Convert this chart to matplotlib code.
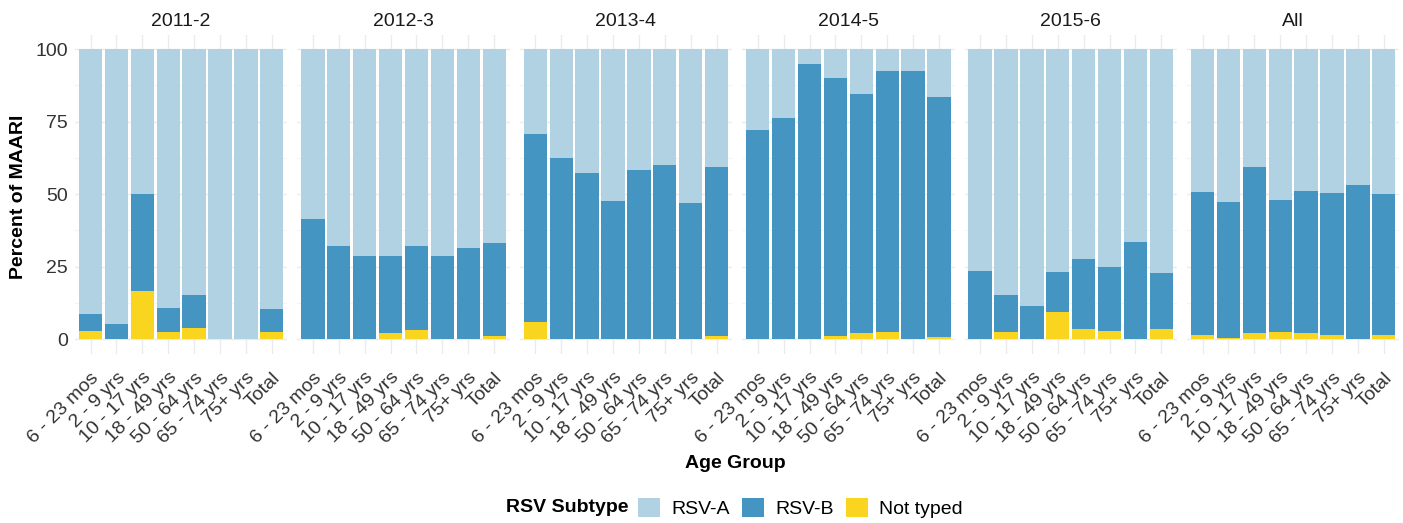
import matplotlib.pyplot as plt
import matplotlib.transforms as mtransforms
import numpy as np
from matplotlib.patches import Patch

plt.rcParams['font.family'] = ['Liberation Sans', 'DejaVu Sans']

# Age groups and seasons (facets)
age_groups = ['6 - 23 mos', '2 - 9 yrs', '10 - 17 yrs', '18 - 49 yrs',
              '50 - 64 yrs', '65 - 74 yrs', '75+ yrs', 'Total']
seasons = ['2011-2', '2012-3', '2013-4', '2014-5', '2015-6', 'All']

# Percent of MAARI by subtype, one list per season
not_typed = {
    '2011-2': [3.0, 0.0, 16.8, 2.6, 3.8, 0.0, 0.0, 2.6],
    '2012-3': [0.0, 0.0, 0.0, 2.0, 3.3, 0.0, 0.0, 1.1],
    '2013-4': [6.0, 0.0, 0.0, 0.0, 0.0, 0.0, 0.0, 1.1],
    '2014-5': [0.0, 0.0, 0.0, 1.1, 2.0, 2.6, 0.0, 0.8],
    '2015-6': [0.0, 2.6, 0.0, 9.4, 3.4, 3.0, 0.0, 3.4],
    'All':    [1.5, 0.5, 2.0, 2.6, 2.3, 1.5, 0.0, 1.5],
}
rsv_b = {
    '2011-2': [5.6, 5.3, 33.2, 8.2, 11.5, 0.0, 0.0, 7.8],
    '2012-3': [41.3, 32.0, 28.7, 26.7, 28.7, 28.7, 31.3, 32.0],
    '2013-4': [64.7, 62.6, 57.4, 47.6, 58.4, 59.9, 47.0, 58.1],
    '2014-5': [72.2, 76.3, 94.9, 89.0, 82.5, 89.7, 92.3, 82.7],
    '2015-6': [23.5, 12.8, 11.3, 13.8, 24.3, 22.0, 33.5, 19.3],
    'All':    [49.1, 46.9, 57.2, 45.5, 48.8, 48.8, 53.3, 48.4],
}
rsv_a = {
    '2011-2': [91.4, 94.7, 50.0, 89.2, 84.7, 100.0, 100.0, 89.6],
    '2012-3': [58.7, 68.0, 71.3, 71.3, 68.0, 71.3, 68.7, 66.9],
    '2013-4': [29.3, 37.4, 42.6, 52.4, 41.6, 40.1, 53.0, 40.8],
    '2014-5': [27.8, 23.7, 5.1, 9.9, 15.5, 7.7, 7.7, 16.5],
    '2015-6': [76.5, 84.6, 88.7, 76.8, 72.3, 75.0, 66.5, 77.3],
    'All':    [49.4, 52.6, 40.8, 51.9, 48.9, 49.7, 46.7, 50.1],
}

col_a = '#B0D2E3'
col_b = '#4595C3'
col_nt = '#F9D51F'
grid_major = '#EBEBEB'
grid_minor = '#F4F4F4'
fs = 14

fig = plt.figure(figsize=(14.03, 5.23), dpi=100)

W, H = 1403.0, 523.0
left0 = 75 / W
pw = 212.3 / W
step = 222.4 / W
bottom = 1 - 353.8 / H
ph = (353.8 - 34.5) / H

# small shift for rotated tick labels
shift = mtransforms.ScaledTranslation(4 / 100, 0, fig.dpi_scale_trans)

x = np.arange(1, len(age_groups) + 1)
for i, s in enumerate(seasons):
    ax = fig.add_axes([left0 + i * step, bottom, pw, ph])
    nt = np.array(not_typed[s])
    b = np.array(rsv_b[s])
    a = np.array(rsv_a[s])
    ax.bar(x, nt, 0.9, color=col_nt, zorder=2)
    ax.bar(x, b, 0.9, bottom=nt, color=col_b, zorder=2)
    ax.bar(x, a, 0.9, bottom=nt + b, color=col_a, zorder=2)

    ax.set_xlim(0.4, 8.6)
    ax.set_ylim(-5, 105)
    ax.set_yticks([0, 25, 50, 75, 100])
    ax.set_yticks([12.5, 37.5, 62.5, 87.5], minor=True)
    ax.set_xticks(x)
    ax.set_xticklabels(age_groups, rotation=45, ha='right', va='top',
                       rotation_mode='anchor', fontsize=fs, color='#333333')
    for lab in ax.get_xticklabels():
        lab.set_transform(lab.get_transform() + shift)
    ax.tick_params(axis='both', which='both', length=0, pad=5)
    ax.tick_params(axis='x', pad=11)
    ax.grid(True, which='major', color=grid_major, lw=1.0, zorder=0)
    ax.grid(True, which='minor', axis='y', color=grid_minor, lw=0.8, zorder=0)
    ax.set_axisbelow(True)
    for sp in ax.spines.values():
        sp.set_visible(False)
    if i == 0:
        ax.set_yticklabels(['0', '25', '50', '75', '100'], fontsize=fs, color='#333333')
    else:
        ax.set_yticklabels([])
    ax.set_title(s, fontsize=fs, color='#1A1A1A', pad=6)

fig.text(19 / W, 1 - 197 / H, 'Percent of MAARI', rotation=90, fontsize=fs,
         fontweight='bold', ha='center', va='center')
fig.text(735 / W, 1 - 463 / H, 'Age Group', fontsize=fs, fontweight='bold',
         ha='center', va='center')

fig.text(628 / W, 1 - 508 / H, 'RSV Subtype', fontsize=fs, fontweight='bold',
         ha='right', va='center')
handles = [Patch(facecolor=col_a, label='RSV-A'),
           Patch(facecolor=col_b, label='RSV-B'),
           Patch(facecolor=col_nt, label='Not typed')]
fig.legend(handles=handles, loc='center left', bbox_to_anchor=(638 / W, 1 - 508 / H),
           ncol=3, frameon=False, fontsize=fs, handlelength=1.13, handleheight=1.13,
           handletextpad=0.57, columnspacing=0.65, borderaxespad=0, borderpad=0)

fig.savefig('out.png', dpi=100, facecolor='white')
